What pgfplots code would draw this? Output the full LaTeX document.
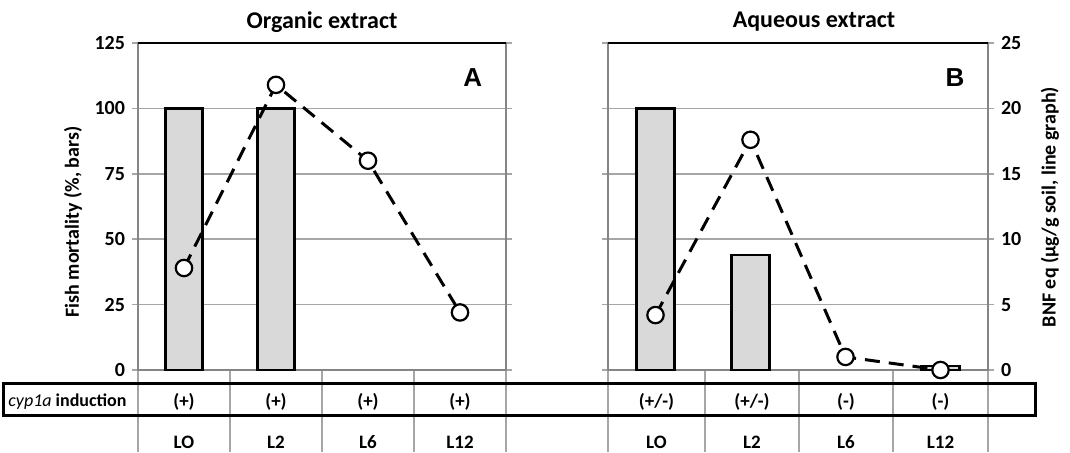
\documentclass[border=0pt]{standalone}
\usepackage{fontspec}
\setmainfont{Carlito}
\newfontfamily\arialfont{Liberation Sans}
\usepackage{pgfplots}
\pgfplotsset{compat=1.18}
\definecolor{bargray}{HTML}{D9D9D9}
\definecolor{gridgray}{HTML}{A6A6A6}
\begin{document}
\begin{tikzpicture}[x=1pt,y=1pt]
\path[use as bounding box] (0,0) rectangle (535,226);
% table lines
\foreach \xx in {69,115,161,207,253,304,352.5,399.5,446.5,494}
  \draw[gridgray, line width=0.6pt] (\xx,0) -- (\xx,41);
\draw[black, line width=1.5pt] (1.5,18.5) rectangle (517.5,34.5);
\pgfplotsset{
 panel/.style={anchor=south west, scale only axis, height=163.5pt,
   xmin=-0.5, xmax=3.5, ymin=0, xtick=\empty, clip=false,
   /pgf/number format/assume math mode=true,
   ticklabel style={font=\fontsize{10}{12}\selectfont\bfseries}},
 barpanel/.style={panel, ymax=125, ytick={0,25,...,125}, ymajorgrids,
   grid style={gridgray, line width=0.8pt},
   tick style={gridgray, line width=0.8pt}, major tick length=3pt,
   tick align=outside, ytick pos=both,
   axis line style={gridgray!80!black, line width=0.8pt}, ybar,
   bar width=0.4},
 lineplot/.style={black, line width=1.5pt, dash pattern=on 7.5pt off 4.5pt,
   mark=*, mark size=4.1pt,
   mark options={solid, fill=white, draw=black, line width=1.1pt}},
 barplot/.style={fill=bargray, draw=black, line width=1.2pt},
}
% ---------- left panel ----------
\begin{axis}[barpanel, at={(69pt,41pt)}, width=184pt, yticklabel pos=left]
\addplot[barplot] coordinates {(0,100) (1,100)};
\draw[black, line width=1pt] (rel axis cs:0,1) -- (rel axis cs:1,1);
\node[font=\arialfont\bfseries\fontsize{13}{15}\selectfont] at (rel axis cs:0.91,0.893) {A};
\end{axis}
\begin{axis}[panel, at={(69pt,41pt)}, width=184pt, ymax=25, hide axis]
\addplot[lineplot] coordinates {(0,7.8) (1,21.8) (2,16) (3,4.4)};
\end{axis}
% ---------- right panel ----------
\begin{axis}[barpanel, at={(304pt,41pt)}, width=190pt, yticklabels={}]
\addplot[barplot] coordinates {(0,100) (1,44) (3,1.5)};
\draw[black, line width=1pt] (rel axis cs:0,1) -- (rel axis cs:1,1);
\node[font=\arialfont\bfseries\fontsize{13}{15}\selectfont] at (rel axis cs:0.913,0.893) {B};
\end{axis}
\begin{axis}[panel, at={(304pt,41pt)}, width=190pt, ymax=25,
  ytick={0,5,...,25}, ytick pos=right, yticklabel pos=right,
  major tick length=3pt, tick align=outside, tick style={draw=none},
  axis line style={draw=none}]
\addplot[lineplot] coordinates {(0,4.2) (1,17.6) (2,1.0) (3,0)};
\end{axis}
% ---------- texts ----------
\node[font=\bfseries\fontsize{12}{14}\selectfont] at (161,215) {Organic extract};
\node[font=\bfseries\fontsize{12}{14}\selectfont] at (407,215) {Aqueous extract};
\node[font=\bfseries\fontsize{10}{12}\selectfont, rotate=90] at (36.5,115) {Fish mortality (\%, bars)};
\node[font=\bfseries\fontsize{10}{12}\selectfont, rotate=90] at (525,122.5) {BNF eq (µg/g soil, line graph)};
\node[font=\fontsize{9}{11}\selectfont] at (33.75,25) {\textit{cyp1a} \textbf{induction}};
\foreach \xx/\tt in {92/{(+)},138/{(+)},184/{(+)},230/{(+)},328.25/{(+/-)},376/{(+/-)},423/{(-)},470.25/{(-)}}
  \node[font=\bfseries\fontsize{9.5}{11}\selectfont] at (\xx,25) {\tt};
\foreach \xx/\tt in {92/LO,138/L2,184/L6,230/L12,328.25/LO,376/L2,423/L6,470.25/L12}
  \node[font=\bfseries\fontsize{9.5}{11}\selectfont] at (\xx,5) {\tt};
\end{tikzpicture}
\end{document}
